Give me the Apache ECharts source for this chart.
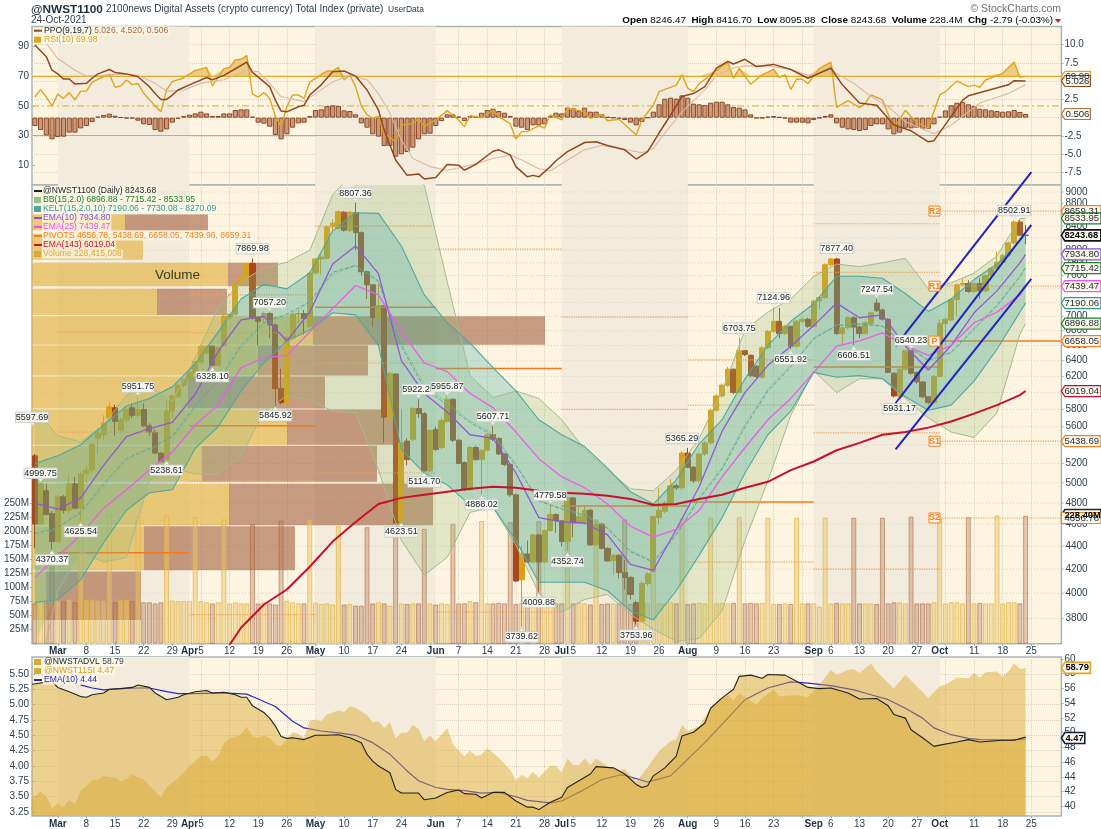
<!DOCTYPE html>
<html><head><meta charset="utf-8">
<style>html,body{margin:0;padding:0;background:#fff}#c{width:1101px;height:829px}</style>
<script src="https://cdn.jsdelivr.net/npm/echarts@6/dist/echarts.min.js"></script>
</head><body><div id="c"></div>
<script>
// ---------- candles (one bar per weekday from 23-Feb-2021)
const opens=[5280,4600,4920,4700,4440,4860,4730,4990,4750,5090,5130,5470,5510,5700,5820,5560,5680,5820,5730,5800,5610,5540,5310,5240,5780,5950,6090,6160,6250,6380,6500,6590,6340,6600,6990,7030,7470,7550,7790,6980,6980,7040,6880,6050,5880,6700,7030,7040,6860,7640,7860,7870,8390,8360,8640,8330,8630,8290,7660,7460,6980,7150,5700,6230,4630,5440,5460,5810,5750,5120,5570,5370,5660,5920,5450,5210,4930,5370,5240,5340,5510,5470,5300,5190,4880,4110,4330,4260,4500,4260,4540,4690,4630,4440,4850,4610,4610,4730,4410,4600,4380,4270,4320,4170,4130,3925,3780,4080,4180,4660,4720,4800,4970,4950,5310,5160,5020,5300,5420,5790,5960,6090,6290,6000,6530,6470,6330,6190,6570,6790,6930,6760,6860,6590,6930,6960,6860,7220,7270,7770,7860,6760,6840,6980,6850,6760,6900,7190,7090,6960,6240,5950,6290,6530,6250,6130,5950,5880,6200,6900,6950,7240,7460,7480,7360,7480,7370,7600,7710,7810,7920,8120,8470,8246.47];
const closes=[4600,4990,4690,4440,4860,4730,4990,4750,5090,5130,5400,5530,5640,5830,5660,5680,5800,5730,5800,5610,5540,5310,5220,5780,5960,6090,6160,6250,6390,6590,6590,6340,6570,7000,7030,7470,7560,7780,6980,6930,7040,6880,6050,5880,6710,7030,7040,6970,7640,7860,7890,8390,8450,8650,8330,8640,8290,7660,7460,6980,7150,5710,6240,4610,5420,5240,5810,5750,5120,5560,5350,5670,5920,5450,5200,4930,5370,5240,5340,5510,5460,5300,5190,4880,4100,4330,4260,4500,4260,4540,4690,4630,4440,4850,4610,4670,4730,4410,4600,4380,4270,4320,4170,4130,3990,3780,4080,4160,4670,4730,4800,4970,4950,5310,5160,5020,5300,5420,5790,5960,6090,6290,6000,6530,6480,6210,6200,6570,6790,6930,6760,6860,6590,6930,6960,6860,7220,7270,7770,7860,6760,6840,6980,6850,6760,6910,7050,7080,6960,6250,5960,6290,6530,6240,6130,5950,5880,6200,6900,6960,7240,7460,7480,7360,7480,7370,7600,7710,7810,7920,8120,8470,8247,8243.68];
const lows=[4380,4590,4680,4370,4430,4700,4700,4740,4625,5000,5100,5300,5450,5650,5500,5540,5650,5700,5700,5600,5500,5300,5210,5239,5700,5930,6060,6140,6230,6360,6480,6328,6330,6580,6950,7010,7450,7530,6950,6600,6900,6700,5846,5860,5870,6680,6900,6750,6840,7620,7620,7850,8300,8340,8310,8300,8000,7600,7250,6850,6970,5420,5680,4600,4623,5180,5440,5700,5114,5110,5330,5350,5640,5430,5190,4920,4920,5230,4888,5330,5440,5290,5170,4860,4090,3740,4250,4250,4010,4250,4530,4520,4400,4353,4480,4600,4600,4400,4400,4370,4260,4150,4120,4030,3950,3754,3770,4060,4170,4600,4700,4780,4930,4930,5150,5000,5000,5280,5400,5770,5940,6070,5980,5990,6460,6190,6180,6170,6550,6770,6700,6740,6552,6570,6900,6840,6840,7100,7250,7740,6740,6606,6820,6606,6700,6740,6880,7060,6940,6240,5940,5931,6270,6220,6110,5930,5860,5870,6190,6600,6930,7000,7440,7340,7340,7250,7350,7580,7690,7790,7900,8100,8240,8095.88];
const highs=[5300,5000,4990,4720,4880,4880,5080,5060,5110,5180,5420,5580,5730,5880,5850,5700,5830,5870,5952,5870,5640,5570,5320,5900,5970,6110,6170,6270,6400,6610,6600,6600,6590,7020,7040,7490,7590,7800,7870,7000,7060,7057,6900,6300,6730,7050,7080,7090,7660,7880,7930,8410,8520,8670,8660,8660,8807,8310,7680,7470,7480,7160,6260,6240,5800,5470,5830,5922,5770,5570,5600,5700,5956,5930,5460,5220,5390,5390,5350,5530,5608,5480,5310,5200,4890,4400,4450,4510,4510,4550,4780,4700,4640,4860,4860,4770,4780,4740,4610,4610,4390,4330,4330,4280,4140,3940,4100,4170,4680,4950,4820,5040,4990,5330,5365,5170,5310,5440,5810,5980,6110,6320,6300,6704,6540,6480,6340,6590,6810,7125,7120,6880,6870,6950,6980,6980,7240,7290,7790,7877,7877,6860,7000,7000,6870,6930,7070,7247,7110,6970,6250,6310,6540,6540,6260,6140,5960,6220,6960,6980,7260,7480,7560,7530,7500,7560,7620,7730,7980,7940,8140,8503,8503,8416.70];
// volume in millions
const volumes=[72,72,74,160,76,76,79,74,235,78,78,77,77,231,74,78,78,76,228,74,74,72,74,229,77,76,76,76,226,76,74,72,74,222,72,74,72,72,213,72,74,72,70,220,77,74,72,72,222,73,71,72,70,210,70,71,68,68,208,72,74,72,68,208,72,71,72,72,205,72,70,72,71,214,72,72,76,74,219,72,72,73,72,217,71,73,72,72,219,71,72,72,72,214,72,73,72,70,222,71,72,72,72,222,71,72,72,72,226,72,72,74,72,224,71,72,73,72,225,72,73,72,73,226,72,73,72,73,225,71,71,72,71,225,72,72,72,66,225,72,73,72,72,225,72,72,72,71,225,72,74,74,72,227,72,72,72,74,224,72,74,74,72,226,72,73,72,72,229,72,74,74,72,228.4];
// ---------- sampled overlay lines, every fourth bar
const sampleBars=[0,4,8,12,16,20,24,28,32,36,40,44,48,52,56,60,64,68,72,76,80,84,88,92,96,100,104,108,112,116,120,124,128,132,136,140,144,148,152,156,160,164,168,172,173];
const ema10=[4800,4740,4850,5180,5490,5580,5650,5980,6520,6950,7000,6660,7060,7780,8070,7630,6400,5990,5770,5510,5470,5100,4660,4620,4610,4500,4240,4190,4550,4960,5550,6000,6340,6590,6870,7190,6980,7020,6590,6280,6600,7050,7370,7800,7934.8];
const ema25=[4130,4310,4500,4750,4930,5130,5320,5620,5850,6310,6440,6470,6780,7110,7450,7310,6790,6370,6260,5990,5820,5540,5250,5060,4950,4790,4580,4480,4550,4730,5060,5370,5680,5930,6250,6590,6660,6770,6600,6470,6600,6910,7060,7310,7439.47];
const ema143=[null,null,null,null,null,null,null,null,3480,3730,3910,4030,4220,4440,4620,4790,4850,4880,4910,4940,4960,4950,4920,4900,4890,4870,4840,4780,4790,4840,4880,4950,5010,5130,5220,5340,5420,5510,5540,5590,5660,5750,5850,5970,6019.04];
const keltUpper=[5200,5280,5400,5620,5840,5930,6070,6360,6780,7250,7470,7400,7640,8320,8630,8620,8070,7310,6910,6630,6310,6020,5680,5510,5380,5150,4910,4790,5030,5410,5680,6170,6600,6930,7180,7590,7590,7560,7330,7070,7250,7540,7780,8150,8270.09];
const keltMid=[4510,4570,4710,4990,5250,5360,5490,5840,6140,6600,6910,7030,7210,7650,7760,7510,6590,6060,5850,5650,5500,5180,4820,4740,4680,4560,4350,4260,4500,4840,5140,5600,6020,6320,6690,6870,6890,6860,6610,6400,6510,6830,7160,7590,7730.08];
const keltLower=[3925,3950,4110,4430,4730,4900,4930,5360,5600,6020,6370,6660,6810,7050,7020,6600,5350,5100,4980,4780,4760,4450,4090,4090,4090,4020,3860,3790,4020,4320,4660,5100,5510,5780,6250,6190,6210,6170,5950,5790,5850,6140,6550,7060,7190.06];
const bbUpper=[5800,5500,5430,5620,5970,6070,5900,6430,7130,7510,7720,7810,8000,8950,9400,9550,9400,9125,7510,6210,5940,6020,5930,5680,5350,5130,4940,4920,5130,5470,6020,6810,7060,7250,7590,7780,7740,7800,7870,7400,7490,7640,7910,8530,8533.95];
const bbMid=[4480,4560,4700,4960,5220,5340,5470,5810,6110,6570,6870,7000,7180,7620,7750,7530,6630,6100,5880,5670,5520,5190,4830,4750,4690,4570,4360,4270,4510,4860,5160,5630,6050,6340,6700,6880,6900,6870,6620,6410,6500,6810,7140,7570,7715.42];
const bbLower=[3290,4020,4350,4260,4300,5020,5150,5090,5090,5280,5770,5960,5910,5780,5760,5130,4450,4150,4300,4710,4760,4410,4000,3850,3950,3990,3830,3720,3630,3650,3860,4450,5020,5730,6270,6000,6170,6170,5930,5700,5540,5480,5760,6750,6896.88];
// ---------- indicator panel
const rsiBars=[0,1,2,3,4,5,6,7,8,9,10,11,13,14,15,16,17,18,19,21,22,23,24,26,28,30,31,33,34,35,36,37,38,39,40,41,42,43,44,45,46,47,48,49,51,52,53,54,55,56,57,58,59,60,61,63,64,66,67,68,70,72,74,75,76,78,80,81,83,84,85,86,88,89,90,92,93,96,97,99,100,102,105,106,108,109,112,113,114,115,116,119,121,122,123,125,127,129,130,131,132,133,134,135,137,139,140,142,144,145,146,148,150,152,154,156,158,159,161,163,164,165,166,169,171,172,173];
const rsiValues=[56,61,56,50,58,55,59,54,60,60,66,68,71.5,62.6,63.5,67.5,64.4,65,58.5,50,46,60.8,66.4,69,74,76,63.5,75,76,81,81.5,84,58,56,59,55,43,36,49.5,57.4,57.4,55,66,68.6,73.6,73.6,76,67.5,71,63,50,44,41.6,43,31.5,26,37,38,41.6,36,40.5,46.8,40.5,36,43.4,42,47,42.7,38,27.7,32.6,32.6,36.7,35,44,40.5,48.4,46,41.6,44,40,41,30.4,40.5,50.6,59.6,64,71,62,59.6,65,74,79.5,68.6,75.4,64.6,71,74.7,69.3,71,61,68,68,65,75.4,79.5,49,53.6,48.8,51.8,57.4,54,35,47,38.7,35,57.4,59.6,66.8,63,64,62.6,67.5,72,79.7,69.3,69.98];
const ppoBars=[0,2,3,4,5,6,7,9,10,11,13,14,16,18,20,21,22,23,24,25,27,30,31,33,35,37,38,41,42,43,44,46,47,48,50,52,54,56,58,60,61,63,65,67,68,70,72,74,75,77,80,81,83,84,86,87,88,90,91,93,96,98,100,103,105,107,109,111,113,115,117,119,121,122,124,126,129,132,135,139,141,144,147,150,153,156,157,162,163,170,171,173];
const ppoValues=[9.95,8.36,6.5,6,5.3,5.3,4.6,4.7,5.4,6,6.6,6.2,6,5.6,4.25,3.3,2.5,2.5,3.1,3.8,4.5,5.5,5.2,5.8,6.7,7.6,6.2,4.25,2.4,.9,.8,1.5,1.7,3.1,4.5,6.3,6.4,5.7,3.8,1.05,-1.7,-5.8,-7.9,-7.7,-8.4,-8.2,-6.4,-6.5,-7.2,-6.4,-4.6,-4.4,-5.1,-6.7,-8.1,-7.9,-8.1,-6.7,-5.9,-4.66,-3.4,-3.3,-3.8,-4.4,-5.66,-4.66,-2.1,.37,2.9,3.3,4.25,6.8,7.7,7.35,8,7,7.3,6.6,5.4,6.8,4.5,2,1.7,-1,-1.8,-3.3,-3.15,2.4,3,4.5,5.07,5.026];
const signalBars=[2,4,7,9,12,15,18,21,23,26,29,33,37,39,41,43,47,49,52,55,58,60,62,64,66,69,72,74,77,80,83,85,88,90,93,96,99,102,106,108,110,113,117,119,122,124,128,132,135,139,143,146,149,152,157,160,165,170,173];
const signalValues=[10.2,8.1,6.5,5.7,5.8,6,5.8,4.7,3.6,3.8,4.7,5.2,6.5,6.3,4.7,2.9,2.2,3.3,4.9,5.8,5.2,3.3,.6,-3.06,-5.6,-6.7,-7.2,-6.9,-6.3,-5.6,-5.1,-5.8,-7,-7.3,-5.8,-4.4,-3.8,-4.2,-4.8,-4.2,-2.1,.8,3.8,5.8,6.8,7.1,7.1,6.6,5.8,6.5,4.7,2.9,1.5,-.55,-2.2,-1,2,3.3,4.52];
const histogram=[-1.14,-1.69,-2.42,-2.97,-2.65,-2.6,-2.05,-2.05,-1.46,-1.14,-.59,.14,.37,.55,.27,.05,-.09,-.09,-.41,-.91,-1,-1.69,-1.92,-1.6,-.68,-.14,.23,.41,.59,.82,.59,.23,.23,.59,.59,1.05,1.14,1.14,.14,-.68,-.82,-1.23,-2.37,-2.97,-2.28,-1.37,-.78,-.68,.23,1.05,1.14,1.6,1.69,1.6,1,.91,.46,-.78,-1.37,-2.28,-2.6,-3.88,-3.88,-5.34,-5.02,-4.7,-4.11,-2.97,-2.28,-2.19,-1.14,-.46,.46,.46,.14,-.46,.23,.14,.68,1.05,1.23,.91,.68,.23,-1.23,-1.37,-1.69,-1.05,-1.05,-.91,.23,.68,.59,1.37,1.28,.91,1.37,.82,.82,.46,.09,0,-.14,-.32,-.68,-1.05,-.59,0,.82,1.83,2.6,2.74,2.6,3.06,2.74,1.92,1.83,1.74,2.05,2.19,2.19,1.83,1.46,1.37,1.14,.46,-.05,-.05,.14,.23,.09,-.09,-.68,-.68,-.68,-.78,-.32,-.05,.23,.46,-.78,-1.37,-1.6,-1.69,-1.83,-1.69,-1.14,-.91,-.91,-1.6,-2.28,-2.05,-1.37,-1.46,-1.37,-1.51,-1.51,-.91,.14,1,1.69,2.05,2.15,1.83,1.6,1.23,1.14,1,.91,.82,.87,1.05,.78,.506];
const rsiLevels=[70,30];
const rsiMidLevel=50;
// ---------- breadth panel
const siBars=[-0.5,3,4,6,8,9,10,12,13,15,17,18,20,21,23,25,26,28,30,31,33,35,36,37,38,40,41,42,43,44,45,47,49,51,53,55,57,58,59,60,62,63,64,67,68,70,72,74,75,77,78,80,82,84,86,87,88,90,92,93,95,97,98,101,103,105,106,107,108,110,112,113,115,117,118,120,122,123,125,127,128,131,133,135,137,139,142,144,147,149,150,152,153,155,157,158,161,163,165,169,171,173];
const siValues=[5.33,5.38,5.28,5.21,5.13,5.12,5.16,5.19,5.25,5.26,5.28,5.32,5.28,5.19,5.08,5.12,5.16,5.21,5.23,5.19,5.2,5.16,5.12,5.12,4.98,4.87,4.78,4.65,4.48,4.45,4.46,4.43,4.5,4.5,4.51,4.46,4.38,4.19,4.08,4,3.89,3.62,3.56,3.56,3.45,3.48,3.57,3.61,3.55,3.54,3.48,3.57,3.57,3.43,3.33,3.33,3.29,3.41,3.49,3.65,3.76,3.87,3.99,3.97,3.87,3.7,3.65,3.68,3.84,3.97,4.16,4.49,4.55,4.7,4.94,5.11,5.25,5.46,5.48,5.43,5.49,5.48,5.38,5.28,5.26,5.27,5.19,5.09,5.1,4.98,4.84,4.78,4.59,4.46,4.32,4.34,4.39,4.43,4.39,4.42,4.42,4.47];
const siEmaBars=[8,10,12,15,18,20,23,25,28,33,37,39,42,45,47,50,53,56,59,62,65,67,70,72,75,78,81,84,86,90,92,96,99,102,103,107,111,114,117,121,124,128,132,135,139,143,146,149,152,155,157,160,163,165,170,173];
const siEmaValues=[5.32,5.27,5.24,5.26,5.27,5.27,5.21,5.18,5.18,5.19,5.17,5.09,4.97,4.73,4.62,4.57,4.54,4.5,4.38,4.19,3.92,3.76,3.65,3.62,3.6,3.56,3.57,3.5,3.44,3.4,3.43,3.62,3.78,3.85,3.85,3.74,3.84,4.11,4.38,4.78,5.08,5.27,5.37,5.35,5.31,5.24,5.16,5.08,4.94,4.78,4.62,4.51,4.45,4.43,4.42,4.44];
const advlBars=[-0.5,1,2,3,4,5,6,7,8,9,10,11,12,14,15,16,17,18,19,20,22,23,25,26,27,29,30,31,32,33,34,36,37,38,39,40,41,42,43,44,45,46,47,48,49,50,51,53,54,55,56,58,59,60,61,62,63,64,65,66,67,68,69,70,72,73,75,76,77,78,79,81,83,84,85,86,87,88,90,91,92,93,94,95,96,97,98,100,102,103,105,107,109,111,112,113,114,116,118,120,121,122,123,126,127,129,130,133,135,137,139,140,142,143,144,146,147,150,152,154,156,158,159,161,163,164,165,166,168,169,170,171,172,173];
const advlValues=[41,42,41.35,39.7,40.4,39.9,40.85,40.3,42.1,42.8,43.55,43.6,44.1,43.9,43.4,43.7,44.4,43.9,43.7,42.8,41.2,42.6,43.8,44.6,45.5,46.8,46.9,46.1,46.8,48.6,49.2,49.75,50.8,49.5,49.3,49.6,49.3,48.4,48.2,49.1,50.07,49.85,49.3,51.6,51.8,51.6,52.45,53,52.8,53.6,53.35,52.4,51.4,51.55,50.65,51.4,49.2,50,50,51,50.5,48.85,49.6,48.85,50.6,48.4,46.75,47.6,46.8,47.05,47.9,46.6,44.95,43.55,44.3,43.8,44.7,43.9,45.5,45.5,44.6,46.5,45.6,45.6,46.5,45.6,46.5,45.4,44.8,45.1,43.3,45.3,47.5,48.85,49.1,51,50.2,50.9,53.35,54.7,55.1,54.45,55.4,53.8,54.7,55.9,54.9,55.1,54.8,56.5,58.5,57.85,58.5,58.65,58.1,59.4,58.3,56,57.85,56.3,54.7,56.3,56.5,57.5,57.4,58.1,57.5,58.2,58.3,57.6,58.3,59.4,58.65,58.79];
// ---------- volume by price rows
const vbpHigh=[8600,8270,7800,7400,7000,6600,6200,5800,5390,4990,4580,4180];
const vbpLow=[8330,7850,7440,7020,6610,6210,5810,5400,5010,4590,4190,3790];
const vbpUp=[93,111,196,125,281,226,156,255,170,197,112,14];
const vbpDown=[83,0,50,70,232,110,137,106,175,204,151,95];
// ---------- monthly pivots: start bar, end bar, price, solid
const pivotStart=[4,4,4,27,27,27,27,27,49,49,49,49,70,70,70,92,92,92,114,114,114,114,136,136,136,136,136,158,158,158,158,158];
const pivotEnd=[27,27,27,49,49,49,49,49,70,70,70,70,92,92,92,114,114,114,136,136,136,136,158,158,158,158,158,179.25,179.25,179.25,179.25,179.25];
const pivotPrice=[6780,5540,4340,7310,6770,5610,5020,3830,8400,7130,6370,5100,8020,6300,3850,6990,5800,4770,6410,5850,4810,4260,8440,7650,6320,5530,4200,8659.31,7439.96,6658.05,5438.69,4656.78];
const pivotSolid=[0,0,1,0,0,1,0,0,0,1,0,0,0,1,0,0,0,1,0,0,1,0,0,0,1,0,0,0,0,1,0,0];
const pivotTags=['R2','R1','P','S1','S2'];
const pivotTagPrice=[8659.31,7439.96,6658.05,5438.69,4656.78];
// ---------- trend channel
const channelBars=[150.3,174];
const channelTop=[6590,9370];
const channelMid=[5870,8420];
const channelBottom=[5350,7550];
// ---------- peak / trough annotations
const noteBars=[-0.5,1,3,8,18,23,31,38,41,42,56,67,72,68,80,78,64,90,93,88,85,105,113,123,129,132,140,143,147,153,151,171];
const noteValues=[5597.69,4999.75,4370.37,4625.54,5951.75,5238.61,6328.10,7869.98,7057.20,5845.92,8807.36,5922.26,5955.87,5114.70,5607.71,4888.02,4623.51,4779.58,4352.74,4009.88,3739.62,3753.96,5365.29,6703.75,7124.96,6551.92,7877.40,6606.51,7247.54,6540.23,5931.17,8502.91];
const noteAbove=[1,1,0,0,1,0,0,1,1,0,1,1,1,0,1,0,0,1,0,0,0,0,1,1,1,0,1,0,1,1,0,1];
// ---------- axes
const xTickBars=[4,9,14,19,24,27,29,34,39,44,49,54,59,64,70,74,79,84,89,92,94,99,104,109,114,119,124,129,136,139,144,149,154,158,164,169,174];
const xTickLabels=['Mar','8','15','22','29','Apr','5','12','19','26','May','10','17','24','Jun','7','14','21','28','Jul','5','12','19','26','Aug','9','16','23','Sep','6','13','20','27','Oct','11','18','25'];
const monthNames=['Mar','Apr','May','Jun','Jul','Aug','Sep','Oct'];
const gridBars=[4,9,14,19,24,29,34,39,44,49,54,59,64,69,74,79,84,89,94,99,104,109,114,119,124,129,134,139,144,149,154,159,164,169,174];
const shadedStart=[4,49,92,136];
const shadedEnd=[27,70,114,158];
const priceTicks=[3800,4000,4200,4400,4600,4800,5000,5200,5400,5600,5800,6000,6200,6400,6600,6800,7000,7200,7400,7600,7800,8000,8200,8400,8600,8800,9000];
const volumeTicks=[25,50,75,100,125,150,175,200,225,250];
const rsiTicks=[10,30,50,70,90];
const ppoTicks=[-7.5,-5,-2.5,0,2.5,5,7.5,10];
const siTicks=[3.25,3.5,3.75,4,4.25,4.5,4.75,5,5.25,5.5];
const advlTicks=[40,42,44,46,48,50,52,54,56,58,60];
// ---------- right-hand value tags
const mainTagValues=[8659.31,8533.95,8243.68,7934.80,7715.42,7439.47,7190.06,6896.88,6658.05,6019.04,5438.69,4656.78];
const mainTagColors=['#f58220','#1e7f2a','#111111','#8a4fd0','#1e7f2a','#f050f0','#2f9c94','#1e7f2a','#f58220','#c8102e','#f58220','#f58220'];

const LAX='#2b3f4f', BG='#fdf5e2', SHADE='#f3ecdc', GRID='#d9d3c2';
const FONT='"Liberation Sans",Arial,sans-serif';
const zip=(a,b)=>a.map((v,i)=>b[i]==null?null:[v,b[i]]).filter(Boolean);
const XMIN=-0.5,XMAX=179.25;

function lineS(name,xi,yi,bars,vals,color,width,z,extra){
  return Object.assign({name,type:'line',xAxisIndex:xi,yAxisIndex:yi,data:zip(bars,vals),showSymbol:false,symbol:'none',silent:true,z,
    lineStyle:{color,width},animation:false},extra||{});
}
function paint(name,xi,yi,z,fn){
  return {name,type:'custom',xAxisIndex:xi,yAxisIndex:yi,z,silent:true,animation:false,data:[[0,yi===2?5000:0]],
    encode:{x:0,y:1},renderItem:(params,api)=>fn(params,api)};
}
const rectOf=p=>({x:p.coordSys.x,y:p.coordSys.y,width:p.coordSys.width,height:p.coordSys.height});
const clipPts=(pts,p)=>echarts.graphic.clipPointsByRect(pts,rectOf(p));

function shading(xi,yi,z){
  return paint('shade'+xi,xi,yi,z,(p,api)=>{
    const c=rectOf(p);
    return {type:'group',children:shadedStart.map((s,i)=>{
      const a=api.coord([s,yi===2?5000:0])[0],b=api.coord([shadedEnd[i],yi===2?5000:0])[0];
      return {type:'rect',shape:{x:a,y:c.y,width:b-a,height:c.height},style:{fill:SHADE}};
    })};
  });
}
function band(name,upper,lower,fill,z){
  return paint(name,1,2,z,(p,api)=>{
    const pts=[];
    sampleBars.forEach((b,i)=>pts.push(api.coord([b,upper[i]])));
    for(let i=sampleBars.length-1;i>=0;i--)pts.push(api.coord([sampleBars[i],lower[i]]));
    return {type:'polygon',shape:{points:clipPts(pts,p)},style:{fill}};
  });
}
function tag(x,y,text,color,bold,square){
  const w=text.length>=7?39.5:text.length*5.6+1;
  const pts=square?[[x,y-5.5],[x+w,y-5.5],[x+w,y+5.5],[x,y+5.5]]:[[x,y],[x+3.5,y-5.5],[x+w,y-5.5],[x+w,y+5.5],[x+3.5,y+5.5]];
  return [{type:'polygon',shape:{points:pts},style:{fill:'#fdf8ec',stroke:color,lineWidth:bold?1.6:1.2},z2:20},
    {type:'text',x:x+(text.length>=7?3:4),y,style:{text,fill:bold?'#000':'#1d2a33',font:(bold?'bold 9.4px ':'9.6px ')+FONT,textVerticalAlign:'middle',textAlign:'left'},z2:21}];
}
const xLabelOpt={show:true,customValues:xTickBars,margin:3,color:LAX,fontFamily:FONT,fontSize:10,hideOverlap:false,
  formatter:v=>{const t=xTickLabels[xTickBars.indexOf(v)];return monthNames.includes(t)?'{b|'+t+'}':t;},
  rich:{b:{fontWeight:'bold',fontSize:10,color:'#1e3040',fontFamily:FONT}}};
const xBase=(gi,labels)=>({type:'value',gridIndex:gi,min:XMIN,max:XMAX,axisLine:{show:false},
  axisTick:{show:labels,customValues:gridBars,length:2,lineStyle:{color:'#9aa8a8'}},
  axisLabel:labels?xLabelOpt:{show:false},
  splitLine:{show:true,lineStyle:{color:GRID,type:'dotted',width:1}}});
const yVal=(gi,pos,min,max,ticks,fmt,split)=>({type:'value',gridIndex:gi,position:pos,min,max,
  axisLine:{show:false},axisTick:{show:true,customValues:ticks,length:2,lineStyle:{color:'#9aa8a8'}},
  axisLabel:{show:true,customValues:ticks,color:LAX,fontFamily:FONT,fontSize:10,margin:3,formatter:fmt},
  splitLine:{show:split,lineStyle:{color:GRID,type:'dotted',width:1}}});

const candleData=opens.map((o,i)=>[i,o,closes[i],lows[i],highs[i]]);
const volData=volumes.map((v,i)=>{const up=closes[i]>=opens[i];
  return {value:[i,v],itemStyle:{color:up?'rgba(236,200,110,.5)':'rgba(186,122,84,.38)',borderColor:up?'rgba(226,180,70,.7)':'rgba(165,100,65,.55)',borderWidth:1}};});
const histData=histogram.map((v,i)=>[i,v]);

const series=[
  shading(0,1,0),shading(1,2,0),shading(2,5,0),
  // price ticks and grid
  paint('priceGrid',1,2,1,(p,api)=>{
    const c=rectOf(p),kids=[];
    priceTicks.forEach(t=>{const y=api.coord([0,t])[1];
      kids.push({type:'line',shape:{x1:c.x,y1:y,x2:c.x+c.width,y2:y},style:{stroke:GRID,lineWidth:1,lineDash:[1,2]}});
      kids.push({type:'line',shape:{x1:c.x+c.width,y1:y,x2:c.x+c.width+2,y2:y},style:{stroke:'#9aa8a8',lineWidth:1}});
      kids.push({type:'text',x:c.x+c.width+4,y,style:{text:String(t),fill:LAX,font:'10px '+FONT,textVerticalAlign:'middle'}});
    });
    return {type:'group',children:kids};
  }),
  // volume by price
  paint('volumeByPrice',3,2,2,(p,api)=>{
    const kids=[];
    vbpHigh.forEach((h,i)=>{
      const a=api.coord([0,h]),b=api.coord([vbpUp[i],vbpLow[i]]),d=api.coord([vbpUp[i]+vbpDown[i],vbpLow[i]]);
      kids.push({type:'rect',shape:{x:a[0],y:a[1],width:b[0]-a[0],height:b[1]-a[1]},style:{fill:'rgba(226,180,70,.68)'}});
      if(vbpDown[i]>0)kids.push({type:'rect',shape:{x:b[0],y:a[1],width:d[0]-b[0],height:b[1]-a[1]},style:{fill:'rgba(160,90,55,.58)'}});
    });
    return {type:'group',children:kids};
  }),
  {name:'Volume',type:'bar',xAxisIndex:1,yAxisIndex:3,data:volData,barWidth:5,z:3,silent:true,animation:false},
  {name:'Price',type:'candlestick',xAxisIndex:1,yAxisIndex:2,data:candleData,barWidth:5.6,z:4,silent:true,animation:false,encode:{x:0,y:[1,2,3,4]},
    itemStyle:{color:'#d9a115',color0:'#a8481a',borderColor:'#d9a115',borderColor0:'#a8481a',borderWidth:1}},
];
pivotStart.forEach((s,i)=>series.push(lineS('pivot'+i,1,2,[s,pivotEnd[i]],[pivotPrice[i],pivotPrice[i]],pivotSolid[i]?'#f47a1f':'#f4a05a',pivotSolid[i]?1.5:1.2,5,{lineStyle:{color:pivotSolid[i]?'#f47a1f':'#f4a05a',width:pivotSolid[i]?1.5:1.2,type:pivotSolid[i]?'solid':'dotted'}})));
series.push(
  band('BB',bbUpper,bbLower,'rgba(150,186,120,.25)',6),
  band('KELT',keltUpper,keltLower,'rgba(55,165,155,.27)',6),
  lineS('BB upper',1,2,sampleBars,bbUpper,'#a3bb90',1,7),
  lineS('BB lower',1,2,sampleBars,bbLower,'#a3bb90',1,7),
  lineS('BB mid',1,2,sampleBars,bbMid,'#8fb58a',1,7,{lineStyle:{color:'#8fb58a',width:1,type:'dotted'}}),
  lineS('KELT upper',1,2,sampleBars,keltUpper,'#4fa8a0',1.1,7),
  lineS('KELT lower',1,2,sampleBars,keltLower,'#4fa8a0',1.1,7),
  lineS('KELT mid',1,2,sampleBars,keltMid,'#4fa8a0',1,7,{lineStyle:{color:'#4fa8a0',width:1,type:'dashed'}}),
  lineS('EMA10',1,2,sampleBars,ema10,'#9257d6',1.3,8),
  lineS('EMA25',1,2,sampleBars,ema25,'#ec5cec',1.3,8),
  lineS('EMA143',1,2,sampleBars,ema143,'#c8102e',2,8),
  lineS('ChannelTop',1,2,channelBars,channelTop,'#2222c4',2,9,{clip:false}),
  lineS('ChannelMid',1,2,channelBars,channelMid,'#2222c4',2,9,{clip:false}),
  lineS('ChannelBottom',1,2,channelBars,channelBottom,'#2222c4',2,9,{clip:false}),
  // annotations
  paint('notes',1,2,10,(p,api)=>{
    const kids=[];
    noteBars.forEach((b,i)=>{
      const c=api.coord([b,noteValues[i]]),up=noteAbove[i];
      const cy=c[1]+(up?-9.6:10.4),w=33,h=10.5;
      const tipY=c[1]+(up?-1.4:1.4),baseY=cy+(up?h/2:-h/2);
      kids.push({type:'polygon',shape:{points:[[c[0]-3,baseY],[c[0]+3,baseY],[c[0],tipY]]},style:{fill:'#f7f7f0',stroke:'#c4c8c0',lineWidth:.6}});
      kids.push({type:'rect',shape:{x:c[0]-w/2,y:cy-h/2,width:w,height:h},style:{fill:'#f7f7f0',stroke:'#c4c8c0',lineWidth:.8}});
      kids.push({type:'text',x:c[0],y:cy,style:{text:noteValues[i].toFixed(2),fill:'#17242c',font:'9px '+FONT,textAlign:'center',textVerticalAlign:'middle'}});
    });
    return {type:'group',children:kids};
  }),
  // pivot name tags and right tags
  paint('pivotTags',1,2,11,(p,api)=>{
    const kids=[];
    pivotTags.forEach((t,i)=>{const y=api.coord([0,pivotTagPrice[i]])[1];
      kids.push({type:'rect',shape:{x:929,y:y-5,width:11,height:10},style:{fill:'#fdf5e2',stroke:'#f58220',lineWidth:1}});
      kids.push({type:'text',x:934.5,y,style:{text:t,fill:'#f58220',font:'bold 9px '+FONT,textAlign:'center',textVerticalAlign:'middle'}});
    });
    return {type:'group',children:kids};
  }),
  paint('mainTags',1,2,12,(p,api)=>{
    const x=p.coordSys.x+p.coordSys.width;let kids=[];
    const vy=api.coord([0,4685])[1];
    kids=kids.concat(tag(x,vy,'228.40M','#1d2a33',true,false));
    mainTagValues.forEach((v,i)=>{const y=api.coord([0,v])[1];
      const t=v.toFixed(2),pivot=mainTagColors[i]==='#f58220';
      kids=kids.concat(tag(x,y,t,mainTagColors[i],v===8243.68,pivot&&v===4656.78));});
    return {type:'group',children:kids};
  }),
  // top panel
  paint('rsiFill',0,0,3,(p,api)=>{
    const c=rectOf(p),y70=api.coord([0,rsiLevels[0]])[1],y30=api.coord([0,rsiLevels[1]])[1];
    const pts=rsiBars.map((b,i)=>api.coord([b,rsiValues[i]]));
    const first=pts[0][0],last=pts[pts.length-1][0];
    const top=echarts.graphic.clipPointsByRect([[first,y70]].concat(pts,[[last,y70]]),{x:c.x,y:c.y,width:c.width,height:y70-c.y});
    const bot=echarts.graphic.clipPointsByRect([[first,y30]].concat(pts,[[last,y30]]),{x:c.x,y:y30,width:c.width,height:c.y+c.height-y30});
    return {type:'group',children:[{type:'polygon',shape:{points:top},style:{fill:'rgba(224,170,50,.55)'}},{type:'polygon',shape:{points:bot},style:{fill:'rgba(224,170,50,.55)'}}]};
  }),
  lineS('RSI70',0,0,[XMIN,XMAX],[rsiLevels[0],rsiLevels[0]],'#e3a92a',1.2,4),
  lineS('RSI30',0,0,[XMIN,XMAX],[rsiLevels[1],rsiLevels[1]],'#e3a92a',1.2,4),
  lineS('RSI50',0,0,[XMIN,XMAX],[rsiMidLevel,rsiMidLevel],'#e8b84a',1.2,4,{lineStyle:{color:'#e8b84a',width:1.2,type:[7,3,2,3]}}),
  {name:'PPO Histogram',type:'bar',xAxisIndex:0,yAxisIndex:1,data:histData,barWidth:5.2,z:5,silent:true,animation:false,
    itemStyle:{color:'rgba(196,136,100,.85)',borderColor:'#8b4a28',borderWidth:1}},
  lineS('RSI',0,0,rsiBars,rsiValues,'#e0a51e',1.4,6),
  lineS('Signal',0,1,signalBars,signalValues,'#dcb8a4',1.1,6),
  lineS('PPO',0,1,ppoBars,ppoValues,'#93491f',1.5,7),
  paint('topTags',0,1,12,(p,api)=>{
    const x=p.coordSys.x+p.coordSys.width;
    const y1=api.coord([0,5.6])[1];
    let kids=tag(x,y1,'69.98','#e0a51e',false,false);
    kids=kids.concat(tag(x,api.coord([0,5.026])[1],'5.026','#93491f',false,false));
    kids=kids.concat(tag(x,api.coord([0,.506])[1],'0.506','#b5704a',false,false));
    return {type:'group',children:kids};
  }),
  // bottom panel
  lineS('SI EMA',2,4,siEmaBars,siEmaValues,'#2a2ac0',1.2,3),
  lineS('ADVL',2,5,advlBars,advlValues,'rgba(0,0,0,0)',0,4,{areaStyle:{color:'rgba(218,165,40,.64)'}}),
  lineS('SI',2,4,siBars,siValues,'#222',1.1,5,{areaStyle:{color:'rgba(218,165,40,.64)'}}),
  paint('bottomTags',2,5,12,(p,api)=>{
    const x=p.coordSys.x+p.coordSys.width;
    let kids=tag(x,api.coord([0,58.79])[1],'58.79','#e0a51e',true,false);
    kids=kids.concat(tag(x,738,'4.47','#14204a',true,false));
    return {type:'group',children:kids};
  })
);

// legends, header
const els=[];
function richRow(x,y,segs,bg){
  const rich={};let text='';
  segs.forEach((s,i)=>{rich['s'+i]={font:(s[2]?'bold ':'')+'8.6px '+FONT,color:s[1],fill:s[1]};text+='{s'+i+'|'+s[0]+'}';});
  els.push({type:'text',x,y,z:100,silent:true,style:{text,rich,textVerticalAlign:'middle',backgroundColor:bg||undefined,padding:bg?[0,1]:0}});
}
function icon(x,y,color,area){
  els.push({type:'rect',z:101,silent:true,shape:area?{x,y:y-3,width:7,height:6}:{x,y:y-1,width:8,height:2},style:{fill:color}});
}
const LBG='rgba(253,247,232,.8)';
const mainLegend=[
 [191,[['@NWST1100 (Daily) 8243.68','#16232c']],'#222',0],
 [200,[['BB(15,2.0) 6896.88 - 7715.42 - 8533.95','#1e7f2a']],'#9bbd8e',1],
 [209,[['KELT(15,2.0,10) 7190.06 - 7730.08 - 8270.09','#2f9c94']],'#4fa8a0',1],
 [218,[['EMA(10) 7934.80','#8a4fd0']],'#8a4fd0',0],
 [227,[['EMA(25) 7439.47','#f050f0']],'#f050f0',0],
 [236,[['PIVOTS 4656.78, 5438.69, 6658.05, 7439.96, 8659.31','#f58220']],'#f58220',0],
 [245,[['EMA(143) 6019.04','#c8102e']],'#c8102e',0],
 [254,[['Volume 228,415,008','#d9a93a']],'#d9a93a',1],
];
mainLegend.forEach(r=>{icon(34,r[0],r[2],r[3]);richRow(42,r[0],r[1],LBG);});
icon(34,30.7,'#93491f',0);richRow(43,30.7,[['PPO(9,19,7) ','#16232c'],['5.026, 4.520, 0.506','#b5603a']],LBG);
icon(34,39.7,'#e0a51e',1);richRow(43,39.7,[['RSI(10) 69.98','#d9a020']],LBG);
icon(34,662,'#d9a93a',1);richRow(43,662,[['@NWSTADVL ','#16232c'],['58.79','#444']],LBG);
icon(34,671,'#d9a93a',1);richRow(43,671,[['@NWST11SI 4.47','#d9a020']],LBG);
icon(34,680,'#2a2ac0',0);richRow(43,680,[['EMA(10) 4.44','#2a2ac0']],LBG);
els.push({type:'text',x:155,y:275,z:100,silent:true,style:{text:'Volume',fill:'#3a3a28',font:'13.5px '+FONT,textVerticalAlign:'middle'}});
els.push({type:'text',x:31,y:9.5,z:100,silent:true,style:{text:'@NWST1100',fill:'#1d3040',font:'bold 11.8px '+FONT,textVerticalAlign:'middle'}});
els.push({type:'text',x:106,y:9.5,z:100,silent:true,style:{text:'2100news Digital Assets (crypto currency) Total Index (private)',fill:'#2b3f4f',font:'10px '+FONT,textVerticalAlign:'middle'}});
els.push({type:'text',x:388,y:10,z:100,silent:true,style:{text:'UserData',fill:'#2b3f4f',font:'8.5px '+FONT,textVerticalAlign:'middle'}});
els.push({type:'text',x:31,y:20.5,z:100,silent:true,style:{text:'24-Oct-2021',fill:'#2b3f4f',font:'10px '+FONT,textVerticalAlign:'middle'}});
els.push({type:'text',x:1061,y:9.5,z:100,silent:true,style:{text:'© StockCharts.com',fill:'#6a7278',font:'10.5px '+FONT,textAlign:'right',textVerticalAlign:'middle'}});
const hdr=[['Open',1],[' 8246.47  ',0],['High',1],[' 8416.70  ',0],['Low',1],[' 8095.88  ',0],['Close',1],[' 8243.68  ',0],['Volume',1],[' 228.4M  ',0],['Chg',1],[' -2.79 (-0.03%)',0]];
(function(){const rich={};let text='';hdr.forEach((h,i)=>{rich['h'+i]={color:h[1]?'#1d3040':'#4a5a64',fontWeight:h[1]?'bold':'normal',fontSize:9.9,fontFamily:FONT};text+='{h'+i+'|'+h[0]+'}';});
 els.push({type:'text',x:1053,y:20.5,z:100,silent:true,style:{text,rich,textAlign:'right',textVerticalAlign:'middle'}});})();
els.push({type:'polygon',z:100,silent:true,shape:{points:[[1055,19],[1061,19],[1058,23]]},style:{fill:'#b02a1c'}});

const option={animation:false,backgroundColor:'#fff',
  grid:[
    {left:32,top:26.5,width:1029.4,height:158.5,show:true,backgroundColor:BG,borderColor:'#a7b5b5',borderWidth:1.5},
    {left:32,top:185,width:1029.4,height:458.7,show:true,backgroundColor:BG,borderColor:'#a7b5b5',borderWidth:1.5},
    {left:32,top:657,width:1029.4,height:160,show:true,backgroundColor:BG,borderColor:'#a7b5b5',borderWidth:1.5}],
  xAxis:[xBase(0,false),xBase(1,true),xBase(2,true),
    {type:'value',gridIndex:1,min:0,max:1029.4,show:false,position:'top',splitLine:{show:false}}],
  yAxis:[
    yVal(0,'left',-3.45,103.65,rsiTicks,v=>String(v),false),
    yVal(0,'right',-9.22,12.49,ppoTicks,v=>v.toFixed(1),true),
    {type:'log',gridIndex:1,position:'right',min:3612,max:9128,logBase:10,axisLine:{show:false},axisTick:{show:false},axisLabel:{show:false},splitLine:{show:false}},
    yVal(1,'left',0,819.1,volumeTicks,v=>v+'M',false),
    yVal(2,'left',3.186,5.775,siTicks,v=>v.toFixed(2),true),
    yVal(2,'right',38.69,60.27,advlTicks,v=>String(v),false)],
  series,graphic:{elements:els}};
echarts.init(document.getElementById('c'),null,{renderer:'canvas'}).setOption(option);
</script></body></html>
